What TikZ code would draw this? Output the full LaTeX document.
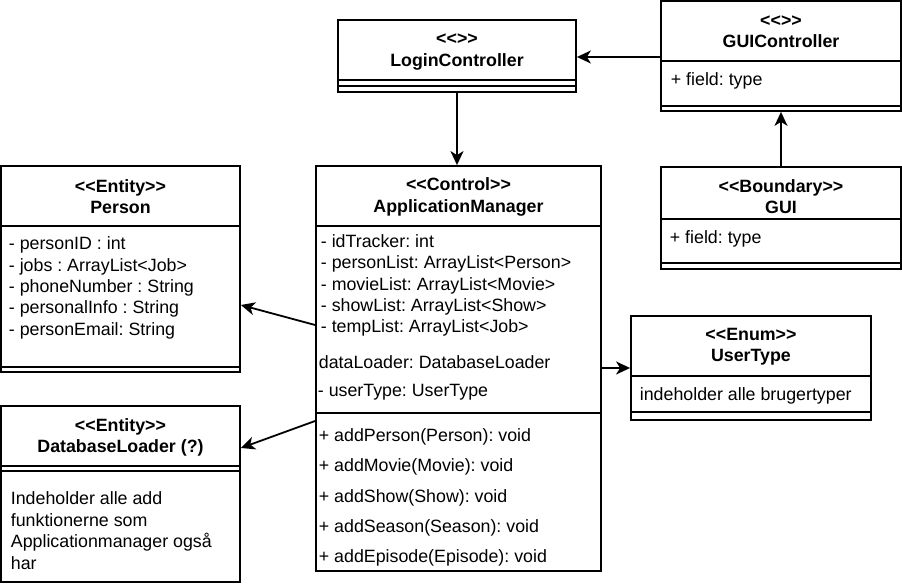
\documentclass[tikz,border=0pt]{standalone}
\usepackage{fontspec}
\newfontfamily\umlfont{Liberation Sans}
\usetikzlibrary{arrows.meta,fit}

\begin{document}
\frenchspacing
\begin{tikzpicture}[x=0.5pt, y=-0.5pt, line width=0.9pt,
  >={Stealth[length=7pt,width=6.5pt,inset=2pt]},
  font=\umlfont\fontsize{8.9}{10.7}\selectfont,
  umlbox/.style={draw, fill=white, inner sep=0pt},
  stereo/.style={align=center, font=\umlfont\bfseries\fontsize{8.9}{10.6}\selectfont},
  attr/.style={anchor=west, align=left, inner sep=0pt},
  methods/.style={attr, font=\umlfont\fontsize{8.9}{15.1}\selectfont}]
\path[use as bounding box, fill=white] (0,0) rectangle (902,588);

% controllers
\node[umlbox, fit={(338,20) (576,92)}] (login) {};
\draw (338,80) -- (576,80) (338,86) -- (576,86);
\node[stereo] (loginhead) at (457,52) {<<>>\\LoginController};

\node[umlbox, fit={(661,1) (901,111)}] (guictrl) {};
\draw (661,61) -- (901,61) (661,106) -- (901,106);
\node[stereo] (guictrlhead) at (781,32) {<<>>\\GUIController};
\node[attr] (guictrlfield) at (670,81) {+ field: type};

\node[umlbox, fit={(661,167) (901,269)}] (gui) {};
\draw (661,219) -- (901,219) (661,263) -- (901,263);
\node[stereo] (guihead) at (781,197) {<<Boundary>>\\GUI};
\node[attr] (guifield) at (669,239) {+ field: type};

% application manager
\node[umlbox, fit={(316,166) (601,571)}] (appman) {};
\draw (316,226) -- (601,226) (316,413) -- (601,413);
\node[stereo] (appmanhead) at (458.5,197) {<<Control>>\\ApplicationManager};
\node[attr] (appmanattr) at (320,285.5) {- idTracker: int\\- personList: ArrayList<Person>\\- movieList: ArrayList<Movie>\\- showList: ArrayList<Show>\\- tempList: ArrayList<Job>};
\node[attr] (appmanloader) at (318,362) {dataLoader: DatabaseLoader};
\node[attr] (appmantype) at (317,392) {- userType: UserType};
\node[methods] (appmanops) at (318,497.5) {+ addPerson(Person): void\\+ addMovie(Movie): void\\+ addShow(Show): void\\+ addSeason(Season): void\\+ addEpisode(Episode): void};

% entities
\node[umlbox, fit={(1,166) (240,372)}] (person) {};
\draw (1,226) -- (240,226) (1,367) -- (240,367);
\node[stereo] (personhead) at (120.5,197) {<<Entity>>\\Person};
\node[attr] (personattr) at (8,288) {- personID : int\\- jobs : ArrayList<Job>\\- phoneNumber : String\\- personalInfo : String\\- personEmail: String};

\node[umlbox, fit={(1,406) (240,582)}] (dbloader) {};
\draw (1,466) -- (240,466) (1,471) -- (240,471);
\node[stereo] (dbloaderhead) at (120.5,437.5) {<<Entity>>\\DatabaseLoader (?)};
\node[attr, font=\umlfont\fontsize{8.9}{10.85}\selectfont] (dbloadernote) at (10,530.5) {Indeholder alle add\\funktionerne som\\Applicationmanager også\\har};

\node[umlbox, fit={(631,316) (871,420)}] (usertype) {};
\draw (631,376) -- (871,376) (631,412) -- (871,412);
\node[stereo] (usertypehead) at (751,347) {<<Enum>>\\UserType};
\node[attr] (usertypenote) at (639,396) {indeholder alle brugertyper};

% connectors
\draw[->] (guictrl.west |- 0,57) -- (login.east |- 0,57);
\draw[->] (gui.north) -- (guictrl.south);
\draw[->] (login.south) -- (login.south |- appman.north);
\draw[->] (appman.west |- 0,325) -- (person.east |- 0,305);
\draw[->] (appman.west |- 0,421) -- (dbloader.east |- 0,448);
\draw[->] (appman.east |- 0,368) -- (usertype.west |- 0,368);
\end{tikzpicture}
\end{document}
